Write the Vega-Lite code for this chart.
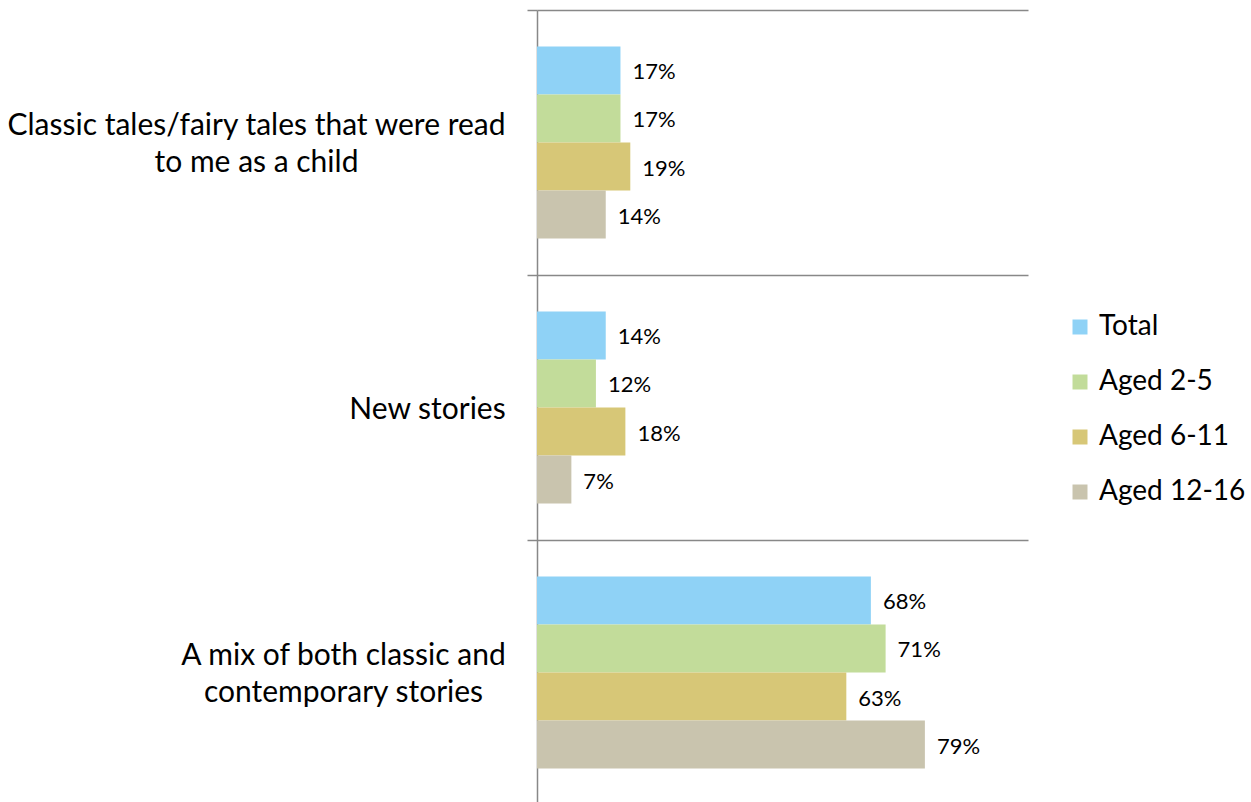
{
  "$schema": "https://vega.github.io/schema/vega-lite/v6.json",
  "width": 491,
  "height": 795,
  "autosize": {"type": "none"},
  "padding": {"left": 537, "top": 10, "right": 223, "bottom": 0},
  "background": "white",
  "config": {"view": {"stroke": null}, "font": "Lato"},
  "data": {
    "values": [
      {"category": "Classic tales/fairy tales that were read|to me as a child", "group": "Total", "value": 0.17},
      {"category": "Classic tales/fairy tales that were read|to me as a child", "group": "Aged 2-5", "value": 0.17},
      {"category": "Classic tales/fairy tales that were read|to me as a child", "group": "Aged 6-11", "value": 0.19},
      {"category": "Classic tales/fairy tales that were read|to me as a child", "group": "Aged 12-16", "value": 0.14},
      {"category": "New stories", "group": "Total", "value": 0.14},
      {"category": "New stories", "group": "Aged 2-5", "value": 0.12},
      {"category": "New stories", "group": "Aged 6-11", "value": 0.18},
      {"category": "New stories", "group": "Aged 12-16", "value": 0.07},
      {"category": "A mix of both classic and|contemporary stories", "group": "Total", "value": 0.68},
      {"category": "A mix of both classic and|contemporary stories", "group": "Aged 2-5", "value": 0.71},
      {"category": "A mix of both classic and|contemporary stories", "group": "Aged 6-11", "value": 0.63},
      {"category": "A mix of both classic and|contemporary stories", "group": "Aged 12-16", "value": 0.79}
    ]
  },
  "encoding": {
    "y": {
      "field": "category",
      "type": "nominal",
      "sort": ["Classic tales/fairy tales that were read|to me as a child", "New stories", "A mix of both classic and|contemporary stories"],
      "scale": {"paddingInner": 0, "paddingOuter": 0},
      "axis": {
        "title": null,
        "tickBand": "extent",
        "grid": true,
        "gridColor": "#888888",
        "gridWidth": 1.5,
        "domainColor": "#888888",
        "domainWidth": 1.5,
        "tickColor": "#888888",
        "tickWidth": 1.5,
        "tickSize": 10,
        "labelFontSize": 30,
        "labelColor": "#000000",
        "labelAlign": "center",
        "labelBaseline": "middle",
        "labelLineHeight": 37,
        "labelLimit": 0,
        "labelExpr": "split(datum.label, '|')",
        "labelOffset": {
          "condition": {"test": "datum.value === 'New stories'", "value": 2},
          "value": -17
        },
        "labelPadding": {
          "condition": [
            {"test": "datum.value === 'New stories'", "value": 100},
            {"test": "datum.value === 'A mix of both classic and|contemporary stories'", "value": 184}
          ],
          "value": 271
        }
      }
    },
    "yOffset": {
      "field": "group",
      "type": "nominal",
      "sort": ["Total", "Aged 2-5", "Aged 6-11", "Aged 12-16"],
      "scale": {"paddingInner": 0, "paddingOuter": 0.76}
    },
    "x": {
      "field": "value",
      "type": "quantitative",
      "scale": {"domain": [0, 1]},
      "axis": null
    }
  },
  "layer": [
    {
      "mark": {"type": "bar"},
      "encoding": {
        "color": {
          "field": "group",
          "type": "nominal",
          "sort": ["Total", "Aged 2-5", "Aged 6-11", "Aged 12-16"],
          "scale": {
            "domain": ["Total", "Aged 2-5", "Aged 6-11", "Aged 12-16"],
            "range": ["#8FD2F6", "#C2DC9A", "#D7C777", "#C9C4AE"]
          },
          "legend": {
            "title": null,
            "orient": "none",
            "legendX": 529,
            "legendY": 303,
            "padding": 0,
            "symbolType": "square",
            "symbolSize": 225,
            "symbolStrokeWidth": 0,
            "labelFontSize": 28,
            "labelColor": "#000000",
            "labelOffset": 5,
            "rowPadding": 27,
            "labelLimit": 0
          }
        }
      }
    },
    {
      "mark": {"type": "text", "align": "left", "baseline": "middle", "dx": 12, "dy": 2, "fontSize": 22, "color": "#000000"},
      "encoding": {"text": {"field": "value", "type": "quantitative", "format": ".0%"}}
    }
  ]
}
